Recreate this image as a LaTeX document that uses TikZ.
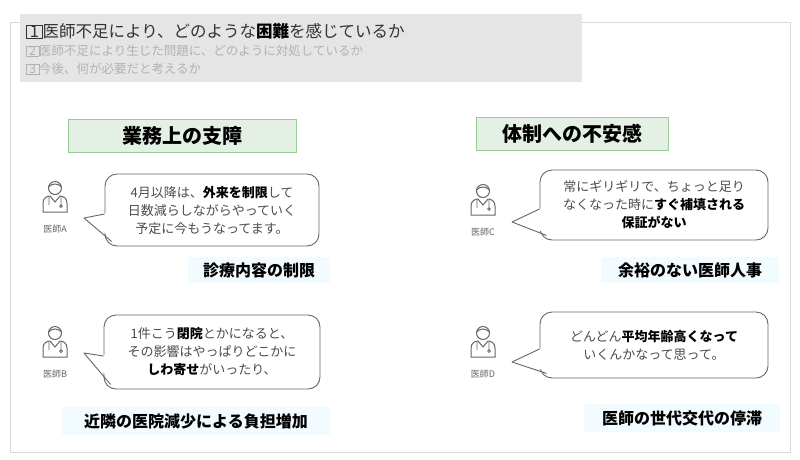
\documentclass[tikz,border=0pt]{standalone}
\usepackage{fontspec}
\setmainfont{Noto Sans CJK JP}
\usetikzlibrary{calc}
\setlength{\fboxsep}{0.5pt}
\begin{document}
\begin{tikzpicture}[x=1pt,y=-1pt,
 bub/.style={draw=black!60,line width=0.9pt,fill=white,rounded corners=12pt,align=center,font=\fontsize{13}{18}\selectfont,text=black!70,inner sep=0pt},
 ttl/.style={draw=green!50!black!40,fill=green!40!black!10,font=\fontsize{20}{22}\selectfont\bfseries,inner sep=0pt},
 lab/.style={fill=blue!30!cyan!5,font=\fontsize{16}{18}\selectfont\bfseries,inner sep=0pt},
 doc/.style={font=\fontsize{9}{10}\selectfont,text=black!60},
 ic/.style={draw=black!60,line width=1pt}]
\useasboundingbox (0,0) rectangle (800,459);
\fill[white] (0,0) rectangle (800,459);
\draw[black!15] (10,22) rectangle (790,452);
\fill[black!10] (20,14) rectangle (582,82);
\node[anchor=west,font=\fontsize{16.5}{18}\selectfont,text=black!80,inner sep=0pt] (q1) at (26,31) {\fbox{\,1\,}医師不足により、どのような\textbf{\color{black}困難}を感じているか};
\node[anchor=west,font=\fontsize{12.5}{14}\selectfont,text=black!30,inner sep=0pt] (q2) at (26,51) {\fbox{\,2\,}医師不足により生じた問題に、どのように対処しているか};
\node[anchor=west,font=\fontsize{12.5}{14}\selectfont,text=black!30,inner sep=0pt] (q3) at (26,69) {\fbox{\,3\,}今後、何が必要だと考えるか};
\node[ttl,minimum width=228,minimum height=33] (t1) at (182,136) {業務上の支障};
\node[ttl,minimum width=192,minimum height=33] (t2) at (572,134) {体制への不安感};
% icons
\foreach \n/\x/\y/\l in {ia/55/200/A,ib/55/345/B,ic/483/203/C,id/483/345/D}{
 \coordinate (\n) at (\x,\y);
 \draw[ic] (\x,\y-12) circle (6.5);
 \draw[ic] (\x-6.5,\y-13) .. controls (\x-3,\y-17) and (\x+3,\y-17) .. (\x+6.5,\y-13);
 \draw[ic] (\x-12,\y+12) -- (\x-12,\y+3) .. controls (\x-12,\y-2) and (\x-8,\y-4) .. (\x-5,\y-4) -- (\x,\y+2) -- (\x+5,\y-4) .. controls (\x+8,\y-4) and (\x+12,\y-2) .. (\x+12,\y+3) -- (\x+12,\y+12) -- cycle;
 \draw[ic,line width=0.7pt] (\x-6,\y-3) -- (\x-6,\y+5) (\x+6,\y-3) -- (\x+6,\y+6) circle (1.5);
 \node[doc] (\n l) at (\x,\y+29) {医師\l};
}
% bubbles
\node[bub,minimum width=214,minimum height=72] (ba) at (212,210) {4月以降は、\textbf{\color{black}外来を制限}して\\日数減らしながらやっていく\\予定に今もうなってます。};
\node[bub,minimum width=216,minimum height=74] (bb) at (212,352) {1件こう\textbf{\color{black}閉院}とかになると、\\その影響はやっぱりどこかに\\\textbf{\color{black}しわ寄せ}がいったり、};
\node[bub,minimum width=228,minimum height=70] (bc) at (654,205) {常にギリギリで、ちょっと足り\\なくなった時に\textbf{\color{black}すぐ補填される}\\\textbf{\color{black}保証がない}};
\node[bub,minimum width=228,minimum height=66] (bd) at (654,345) {どんどん\textbf{\color{black}平均年齢高くなって}\\いくんかなって思って。};
% tails
\foreach \b/\tx/\ty in {ba/84/218,bb/84/353,bc/512/222,bd/512/362}{
 \coordinate (\b t) at (\tx,\ty);
 \coordinate (\b u) at ($(\b.west)+(0,4)$);
 \coordinate (\b d) at ($(\b.south west)+(7,-5)$);
 \fill[white] ($(\b u)+(2,-1)$) -- (\b t) -- ($(\b d)+(3,-2)$) -- ($(\b d)+(6,-4)$) -- cycle;
 \draw[black!60,line width=0.9pt,line join=round] (\b u) -- (\b t) -- (\b d);
}
% labels
\node[lab,minimum width=142,minimum height=26] (la) at (259,270) {診療内容の制限};
\node[lab,minimum width=268,minimum height=28] (lb) at (196,421) {近隣の医院減少による負担増加};
\node[lab,minimum width=178,minimum height=26] (lc) at (690,270) {余裕のない医師人事};
\node[lab,minimum width=196,minimum height=28] (ld) at (682,418) {医師の世代交代の停滞};
\end{tikzpicture}
\end{document}
